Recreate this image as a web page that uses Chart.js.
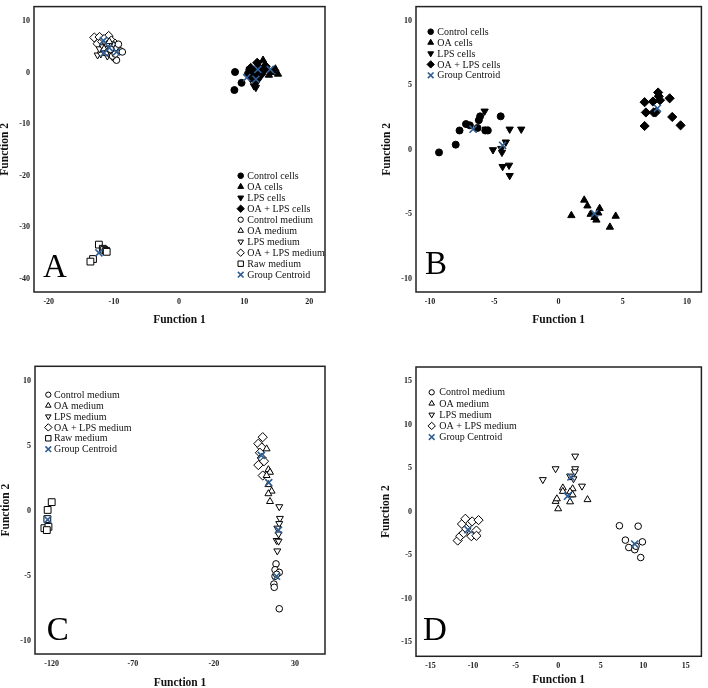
<!DOCTYPE html>
<html><head><meta charset="utf-8">
<script src="https://cdn.jsdelivr.net/npm/chart.js@4/dist/chart.umd.min.js"></script>
<style>
html,body{margin:0;padding:0;background:#fff;}
body{width:708px;height:688px;position:relative;overflow:hidden;}
.panel{position:absolute;width:354px;height:344px;}
canvas{display:block;}
</style></head><body>
<div class="panel" style="left:0;top:0"><canvas id="cA" width="354" height="344"></canvas></div>
<div class="panel" style="left:354px;top:0"><canvas id="cB" width="354" height="344"></canvas></div>
<div class="panel" style="left:0;top:344px"><canvas id="cC" width="354" height="344"></canvas></div>
<div class="panel" style="left:354px;top:344px"><canvas id="cD" width="354" height="344"></canvas></div>
<script>
// ---------- Panel A ----------
const aXTicks = [-20, -10, 0, 10, 20];
const aYTicks = [10, 0, -10, -20, -30, -40];
const aControlCells = [[8.6,0.1],[9.6,-2.0],[8.5,-3.4],[10.8,0.6],[11.2,-0.8],[11.8,-1.6],[10.6,-0.2],[12.1,-0.3]];
const aOaCells = [[13.5,0.8],[14.5,0.3],[15.2,-0.3],[14.1,0.0],[13.2,1.6],[12.9,2.4],[13.8,-0.5],[14.8,0.7]];
const aLpsCells = [[11.5,-2.6],[12.0,-1.8],[11.0,-1.2],[12.5,-0.8],[11.8,-2.9],[12.3,0.3],[11.3,-0.4]];
const aOaLpsCells = [[11.0,0.9],[12.2,1.1],[13.0,0.3],[12.6,-0.4],[11.7,0.2],[13.3,1.2],[10.9,-0.5],[12.0,1.9]];
const aControlMedium = [[-9.5,4.8],[-9.0,4.2],[-9.6,2.4],[-10.2,3.2],[-9.3,5.5],[-10.5,4.5],[-8.7,4.0],[-9.8,3.6]];
const aOaMedium = [[-11.0,5.5],[-10.5,5.0],[-11.5,4.6],[-10.8,4.2],[-10.0,5.3],[-11.2,3.8],[-9.9,4.4],[-10.7,6.0]];
const aLpsMedium = [[-12.5,3.4],[-12.0,3.6],[-11.5,4.0],[-11.0,3.2],[-12.2,4.6],[-10.8,3.7],[-11.7,5.0],[-10.2,3.0]];
const aOaLpsMedium = [[-13.0,6.8],[-12.2,6.9],[-10.8,7.1],[-12.5,5.6],[-11.8,6.0],[-11.2,5.8],[-10.4,6.2],[-11.5,6.5],[-9.8,5.6]];
const aRawMedium = [[-12.3,-33.4],[-11.7,-34.2],[-11.5,-34.4],[-11.2,-34.6],[-11.1,-34.8],[-13.2,-36.2],[-13.6,-36.7]];
const aCentroids = [[10.4,-1.0],[14.0,0.6],[11.8,-1.3],[12.1,0.6],[-9.6,4.0],[-10.7,4.8],[-11.5,3.8],[-11.6,6.2],[-12.3,-35.0]];

// ---------- Panel B ----------
const bXTicks = [-10, -5, 0, 5, 10];
const bYTicks = [10, 5, 0, -5, -10];
const bControlCells = [[-9.3,-0.2],[-8.0,0.4],[-7.7,1.5],[-7.2,2.0],[-6.9,1.9],[-6.3,1.7],[-6.2,2.3],[-6.1,2.6],[-5.7,1.5],[-5.5,1.5],[-4.5,2.6]];
const bOaCells = [[1.0,-5.1],[2.0,-3.9],[2.25,-4.35],[2.5,-5.0],[2.8,-5.25],[2.95,-5.45],[3.1,-4.9],[3.2,-4.55],[4.0,-6.0],[4.45,-5.15]];
const bLpsCells = [[-5.75,3.0],[-5.65,1.6],[-5.1,0.0],[-4.45,0.1],[-4.4,-0.2],[-4.1,0.6],[-3.8,1.6],[-2.9,1.6],[-4.35,-1.3],[-3.85,-1.2],[-3.8,-2.0]];
const bOaLpsCells = [[6.7,3.7],[6.8,2.9],[6.7,1.85],[7.35,3.75],[7.4,2.9],[7.55,2.9],[7.75,4.45],[7.8,4.15],[7.9,3.85],[8.65,4.0],[8.85,2.55],[9.5,1.9]];
const bCentroids = [[-6.65,1.6],[2.8,-4.95],[-4.35,0.35],[7.7,3.22]];

// ---------- Panel C ----------
const cXTicks = [-120, -70, -20, 30];
const cYTicks = [10, 5, 0, -5, -10];
const cControlMedium = [[18.3,-4.05],[17.7,-4.5],[20.3,-4.7],[17.7,-5.0],[18.7,-4.85],[17.0,-5.6],[17.2,-5.85],[20.3,-7.5]];
const cOaMedium = [[12.5,4.8],[13.6,3.2],[14.6,3.0],[12.5,2.75],[13.6,2.05],[15.6,1.55],[13.6,1.35],[14.6,0.75]];
const cLpsMedium = [[20.3,0.35],[20.7,-0.55],[20.3,-0.95],[19.1,-1.3],[19.9,-1.75],[18.7,-2.25],[19.9,-2.3],[19.1,-3.05]];
const cOaLpsMedium = [[10.1,5.7],[7.4,5.2],[9.5,4.9],[8.4,4.5],[9.5,4.1],[10.9,3.85],[7.4,3.55],[10.1,2.75]];
const cRawMedium = [[-120.0,0.7],[-122.5,0.1],[-122.7,-0.6],[-124.5,-1.3],[-122.0,-1.2],[-123.0,-1.45]];
const cCentroids = [[18.6,-5.0],[13.8,2.2],[19.8,-1.45],[9.2,4.3],[-122.5,-0.65]];

// ---------- Panel D ----------
const dXTicks = [-15, -10, -5, 0, 5, 10, 15];
const dYTicks = [15, 10, 5, 0, -5, -10, -15];
const dControlMedium = [[7.2,-1.6],[9.4,-1.65],[7.9,-3.25],[8.3,-4.1],[9.0,-4.25],[9.0,-4.35],[9.15,-3.95],[9.9,-3.45],[9.7,-5.25]];
const dOaMedium = [[0.0,0.35],[-0.3,1.2],[-0.15,1.5],[0.55,2.75],[0.55,2.35],[1.7,2.65],[1.4,1.15],[1.5,1.95],[3.45,1.4],[1.4,2.3],[1.7,1.95]];
const dLpsMedium = [[-1.8,3.7],[-0.3,4.95],[2.0,6.4],[2.0,4.95],[1.95,4.6],[2.8,2.95],[1.8,3.8],[1.4,4.1]];
const dOaLpsMedium = [[-11.8,-3.3],[-11.5,-2.8],[-11.3,-1.4],[-10.9,-0.8],[-11.1,-2.45],[-10.1,-1.1],[-10.2,-2.8],[-9.6,-2.15],[-9.6,-2.75],[-9.35,-0.95],[-10.8,-1.95]];
const dCentroids = [[9.0,-3.7],[1.1,1.8],[1.5,4.0],[-10.6,-2.05]];

// ---------- styles ----------
const FONT = "'Liberation Serif','Times New Roman',serif";
const CENTROID_COLOR = '#2f5f93';
const STYLE = {
  'Control cells':   {ps:'circle',   rot:0,   fill:true,  r:3.5},
  'OA cells':        {ps:'triangle', rot:0,   fill:true,  r:4.2},
  'LPS cells':       {ps:'triangle', rot:180, fill:true,  r:4.2},
  'OA + LPS cells':  {ps:'rectRot',  rot:0,   fill:true,  r:4.6},
  'Control medium':  {ps:'circle',   rot:0,   fill:false, r:3.3},
  'OA medium':       {ps:'triangle', rot:0,   fill:false, r:4.0},
  'LPS medium':      {ps:'triangle', rot:180, fill:false, r:4.0},
  'OA + LPS medium': {ps:'rectRot',  rot:0,   fill:false, r:4.6},
  'Raw medium':      {ps:'rect',     rot:0,   fill:false, r:4.8},
  'Group Centroid':  {ps:'crossRot', rot:0,   fill:false, r:5.0, color:CENTROID_COLOR, bw:1.6}
};

function makeDataset(label, arr) {
  const s = STYLE[label];
  const isC = label === 'Group Centroid';
  return {
    label: label,
    data: arr.map(p => ({x: p[0], y: p[1]})),
    pointStyle: s.ps,
    pointRotation: s.rot,
    pointRadius: s.r,
    pointHoverRadius: s.r,
    backgroundColor: s.fill ? '#000' : '#fff',
    borderColor: s.color || '#000',
    pointBorderWidth: s.bw || 1,
    borderWidth: s.bw || 1,
    showLine: false,
    order: isC ? 0 : 1
  };
}

const PANELS = [
  {canvas:'cA', letter:'A', area:[34,1,325,292], xRange:[-22.26,22.41], yRange:[-42.6,12.8],
   xTicks:aXTicks, yTicks:aYTicks, xTitleY:320, yTitleX:5, letterPos:[43,277],
   legend:{symX:240.7, textX:247.3, y0:175.7, step:11.0},
   series:[['Control cells',aControlCells],['OA cells',aOaCells],['LPS cells',aLpsCells],['OA + LPS cells',aOaLpsCells],
           ['Control medium',aControlMedium],['OA medium',aOaMedium],['LPS medium',aLpsMedium],['OA + LPS medium',aOaLpsMedium],
           ['Raw medium',aRawMedium],['Group Centroid',aCentroids]]},
  {canvas:'cB', letter:'B', area:[62,1,353,292], xRange:[-11.09,11.12], yRange:[-11.04,11.12],
   xTicks:bXTicks, yTicks:bYTicks, xTitleY:320.5, yTitleX:33, letterPos:[71,274],
   legend:{symX:76.7, textX:83.3, y0:31.7, step:10.9},
   series:[['Control cells',bControlCells],['OA cells',bOaCells],['LPS cells',bLpsCells],['OA + LPS cells',bOaLpsCells],
           ['Group Centroid',bCentroids]]},
  {canvas:'cC', letter:'C', area:[35,22.3,325,310], xRange:[-130.3,48.5], yRange:[-10.98,11.15],
   xTicks:cXTicks, yTicks:cYTicks, xTitleY:339, yTitleX:6, letterPos:[46.7,295.7],
   legend:{symX:48.3, textX:54, y0:50.7, step:10.9},
   series:[['Control medium',cControlMedium],['OA medium',cOaMedium],['LPS medium',cLpsMedium],['OA + LPS medium',cOaLpsMedium],
           ['Raw medium',cRawMedium],['Group Centroid',cCentroids]]},
  {canvas:'cD', letter:'D', area:[62,23,350,312.3], xRange:[-16.7,16.83], yRange:[-16.6,16.64],
   xTicks:dXTicks, yTicks:dYTicks, xTitleY:336.5, yTitleX:32, letterPos:[69,295.7],
   legend:{symX:77.7, textX:85.3, y0:48.3, step:11.2},
   series:[['Control medium',dControlMedium],['OA medium',dOaMedium],['LPS medium',dLpsMedium],['OA + LPS medium',dOaLpsMedium],
           ['Group Centroid',dCentroids]]}
];

function drawSymbol(ctx, s, x, y, scale) {
  ctx.fillStyle = s.fill ? '#000' : '#fff';
  ctx.strokeStyle = s.color || '#000';
  ctx.lineWidth = s.bw || 1;
  Chart.helpers.drawPoint(ctx, {pointStyle:s.ps, rotation:s.rot, radius:s.r*scale, borderWidth:s.bw || 1}, x, y);
}

function panelPlugin(P) {
  return {
    id: 'panel' + P.letter,
    afterDatasetsDraw(chart) {
      const ctx = chart.ctx, a = chart.chartArea;
      ctx.save();
      ctx.strokeStyle = '#222';
      ctx.lineWidth = 1.5;
      ctx.strokeRect(a.left, a.top, a.right - a.left, a.bottom - a.top);
      ctx.fillStyle = '#000';
      ctx.font = '33px ' + FONT;
      ctx.textAlign = 'left';
      ctx.textBaseline = 'alphabetic';
      ctx.fillText(P.letter, P.letterPos[0], P.letterPos[1]);
      const L = P.legend;
      P.series.forEach((sr, i) => {
        const y = L.y0 + i * L.step;
        drawSymbol(ctx, STYLE[sr[0]], L.symX, y, 0.8);
        ctx.fillStyle = '#111';
        ctx.font = '10px ' + FONT;
        ctx.textAlign = 'left';
        ctx.textBaseline = 'middle';
        ctx.fillText(sr[0], L.textX, y + 0.5);
      });
      ctx.restore();
    }
  };
}

function makeChart(P) {
  const W = 354, H = 344;
  const [l, t, r, b] = P.area;
  const tFont = {family: FONT, size: 11.5, weight: 'bold', lineHeight: 1};
  const half = 11.5 / 2;
  const tickFont = {family: FONT, size: 8, weight: 'bold'};
  new Chart(document.getElementById(P.canvas), {
    type: 'scatter',
    data: {datasets: P.series.map(s => makeDataset(s[0], s[1]))},
    options: {
      responsive: false, animation: false, events: [],
      layout: {padding: {left: 0, top: t, right: W - r, bottom: 0}},
      plugins: {legend: {display: false}, tooltip: {enabled: false}},
      scales: {
        x: {
          type: 'linear', position: 'bottom', min: P.xRange[0], max: P.xRange[1],
          grid: {display: false, drawTicks: false}, border: {display: false},
          ticks: {font: tickFont, color: '#222', padding: 5, maxRotation: 0, autoSkip: false},
          afterBuildTicks: s => { s.ticks = P.xTicks.map(v => ({value: v})); },
          afterFit: s => { s.height = H - b; s.paddingLeft = 0; s.paddingRight = 0; },
          title: {display: true, text: 'Function 1', font: tFont, color: '#111',
                  padding: {top: 0, bottom: H - half - P.xTitleY}}
        },
        y: {
          type: 'linear', position: 'left', min: P.yRange[0], max: P.yRange[1],
          grid: {display: false, drawTicks: false}, border: {display: false},
          ticks: {font: tickFont, color: '#222', padding: 4, autoSkip: false},
          afterBuildTicks: s => { s.ticks = P.yTicks.map(v => ({value: v})); },
          afterFit: s => { s.width = l; s.paddingTop = 0; s.paddingBottom = 0; },
          title: {display: true, text: 'Function 2', font: tFont, color: '#111',
                  padding: {top: P.yTitleX - half, bottom: 0}}
        }
      }
    },
    plugins: [panelPlugin(P)]
  });
}

PANELS.forEach(makeChart);
</script>
</body></html>
